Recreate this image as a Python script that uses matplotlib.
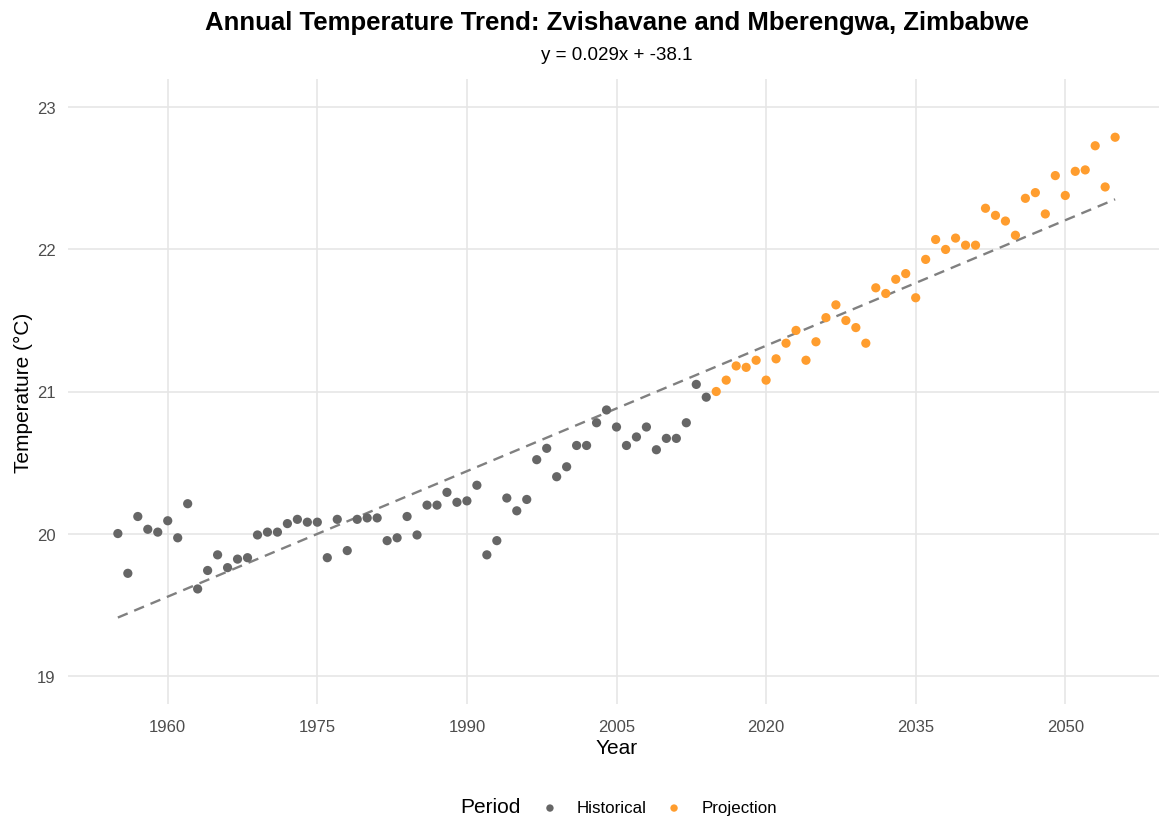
import numpy as np
import matplotlib.pyplot as plt

plt.rcParams['font.family'] = ['Liberation Sans', 'DejaVu Sans']

# historical observations
hist_years = list(range(1955, 2015))
hist_temps = [20.00, 19.72, 20.12, 20.03, 20.01, 20.09, 19.97, 20.21, 19.61, 19.74,
              19.85, 19.76, 19.82, 19.83, 19.99, 20.01, 20.01, 20.07, 20.10, 20.08,
              20.08, 19.83, 20.10, 19.88, 20.10, 20.11, 20.11, 19.95, 19.97, 20.12,
              19.99, 20.20, 20.20, 20.29, 20.22, 20.23, 20.34, 19.85, 19.95, 20.25,
              20.16, 20.24, 20.52, 20.60, 20.40, 20.47, 20.62, 20.62, 20.78, 20.87,
              20.75, 20.62, 20.68, 20.75, 20.59, 20.67, 20.67, 20.78, 21.05, 20.96]

# projected values
proj_years = list(range(2015, 2056))
proj_temps = [21.00, 21.08, 21.18, 21.17, 21.22, 21.08, 21.23, 21.34, 21.43, 21.22,
              21.35, 21.52, 21.61, 21.50, 21.45, 21.34, 21.73, 21.69, 21.79, 21.83,
              21.66, 21.93, 22.07, 22.00, 22.08, 22.03, 22.03, 22.29, 22.24, 22.20,
              22.10, 22.36, 22.40, 22.25, 22.52, 22.38, 22.55, 22.56, 22.73, 22.44,
              22.79]

x_ticks = [1960, 1975, 1990, 2005, 2020, 2035, 2050]
y_ticks = [19, 20, 21, 22, 23]

hist_color = '#666666'
proj_color = '#FF9D2E'

# linear trend over all years
all_years = np.array(hist_years + proj_years)
all_temps = np.array(hist_temps + proj_temps)
slope, intercept = np.polyfit(all_years, all_temps, 1)

W, H = 1159, 820
fig = plt.figure(figsize=(W / 100, H / 100), dpi=100)
# plot panel: 1950 at x=68, 2060 at x=1165 (right edge slightly past the canvas)
ax = fig.add_axes([68 / W, 1 - 705 / H, 1097 / W, 625 / H])

ax.scatter(hist_years, hist_temps, s=44, color=hist_color, edgecolors='none',
           zorder=3, label='Historical')
ax.scatter(proj_years, proj_temps, s=44, color=proj_color, edgecolors='none',
           zorder=3, label='Projection')

line_x = np.array([all_years.min(), all_years.max()])
ax.plot(line_x, slope * line_x + intercept, color='#808080', linewidth=1.7,
        linestyle=(0, (4.5, 3)), zorder=2)

ax.set_xlim(1950, 2060)
ax.set_ylim(18.8, 23.2)
ax.set_xticks(x_ticks)
ax.set_yticks(y_ticks)
ax.tick_params(length=0, labelsize=12, labelcolor='#4D4D4D')
ax.tick_params(axis='x', pad=11)
ax.tick_params(axis='y', pad=9)
ax.grid(True, color='#E6E6E6', linewidth=1.2)
ax.set_axisbelow(True)
for s in ax.spines.values():
    s.set_visible(False)

ax.set_xlabel('Year', fontsize=15, labelpad=3)
ax.set_ylabel('Temperature (°C)', fontsize=15, labelpad=3)

cx = 617 / W
fig.text(cx, 1 - 23 / H, 'Annual Temperature Trend: Zvishavane and Mberengwa, Zimbabwe',
         ha='center', va='center', fontsize=18.5, fontweight='bold')
fig.text(cx, 1 - 56 / H, 'y = 0.029x + -38.1', ha='center', va='center', fontsize=13.5)

# legend at the bottom: title inline with the keys
fig.text(460 / W, 1 - 808 / H, 'Period', ha='left', va='center', fontsize=15)
handles, labels = ax.get_legend_handles_labels()
fig.legend(handles, labels, loc='center left', bbox_to_anchor=(533 / W, 1 - 809 / H),
           ncol=2, frameon=False, fontsize=12.2, markerscale=0.8,
           handlelength=1.0, handletextpad=1.1, columnspacing=1.1, borderpad=0)

fig.savefig('out.png', dpi=100)
